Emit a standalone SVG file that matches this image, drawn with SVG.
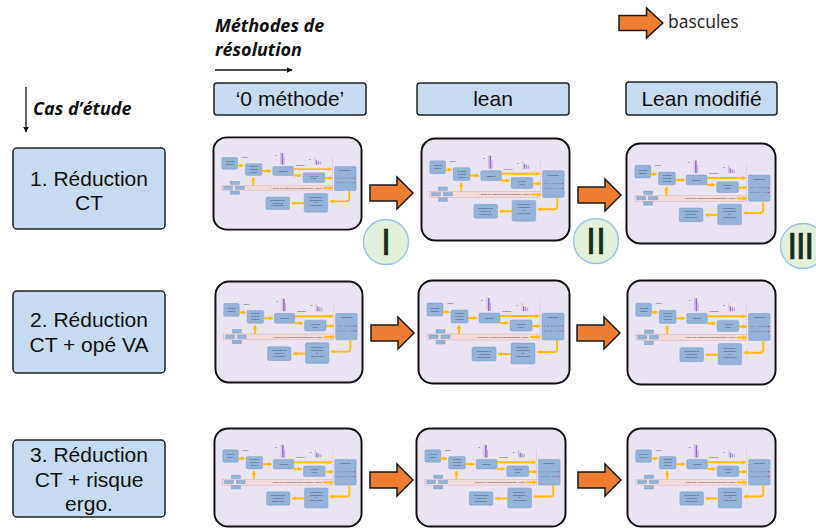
<svg xmlns="http://www.w3.org/2000/svg" xmlns:xlink="http://www.w3.org/1999/xlink" width="816" height="530" viewBox="0 0 816 530">
<style>
.hdr{fill:#C6DBEF;stroke:#222;stroke-width:1.5}
.ht{font-family:"Liberation Sans",Arial,sans-serif;font-size:21px;fill:#111;text-anchor:middle}
.ct{font-family:"Liberation Sans",Arial,sans-serif;font-size:21px;fill:#111;text-anchor:middle}
.axis{font-family:"Open Sans",sans-serif;font-size:18px;font-weight:bold;font-style:italic;fill:#111}
.leg{font-family:"Open Sans",sans-serif;font-size:17.5px;fill:#222}
.orange{fill:#ED7D31;stroke:#1a1a1a;stroke-width:1.5;stroke-linejoin:miter}
.circ{fill:#E2EFDA;stroke:#9DC3E6;stroke-width:1.5}
.num{font-family:"Liberation Sans",Arial,sans-serif;font-size:36px;fill:#1B2B1B;stroke:#1B2B1B;stroke-width:0.6;text-anchor:middle}
.tb{fill:#95B3D7;stroke:#7B9FCB;stroke-width:0.5}
.tt{font-family:"Liberation Sans",Arial,sans-serif;font-size:2.4px;fill:#1F3864;text-anchor:middle}
.tl{font-family:"Liberation Sans",Arial,sans-serif;font-size:2.4px;fill:#333}
.ya{stroke:#FFC000;stroke-width:2;fill:none}
</style>
<defs>
<marker id="blk" viewBox="0 0 10 10" refX="9" refY="5" markerWidth="6" markerHeight="6" orient="auto" markerUnits="userSpaceOnUse"><path d="M0,0 L10,5 L0,10 Z" fill="#111"/></marker>
<marker id="yel" viewBox="0 0 10 10" refX="8" refY="5" markerWidth="2.2" markerHeight="2.2" orient="auto" markerUnits="strokeWidth"><path d="M0,0 L10,5 L0,10 Z" fill="#FFC000"/></marker>
<path id="oarrow" d="M0,8 H27 V0 L43,16 L27,32 V24 H0 Z"/>
<symbol id="thumb" viewBox="0 0 154 106" preserveAspectRatio="none" overflow="visible">
<rect x="1.5" y="1.5" width="151" height="103" rx="14" fill="#EAE3F2" stroke="#111" stroke-width="2"/>
<rect x="10" y="55" width="113" height="6" fill="#F2DCDB" stroke="#CDB3B2" stroke-width="0.5"/>
<text class="tl" x="60" y="58.8">Analyse de l’alignement objectif/stratégie / action</text>
<rect class="tb" x="19" y="50.5" width="9" height="3.5"/>
<rect class="tb" x="12" y="56" width="9" height="3.5"/>
<rect class="tb" x="24" y="56" width="9" height="3.5"/>
<rect class="tb" x="19" y="61.5" width="9" height="3.5"/>
<rect class="tb" x="10" y="24" width="16" height="13" rx="1.5"/>
<text class="tt" x="18" y="29.5">Process</text><text class="tt" x="18" y="32.5">Manuel</text>
<rect class="tb" x="34" y="31" width="17" height="13" rx="1.5"/>
<text class="tt" x="42.5" y="35">Création</text><text class="tt" x="42.5" y="38">process</text><text class="tt" x="42.5" y="41">collectif</text>
<rect class="tb" x="62" y="34" width="21" height="10" rx="1.5"/>
<text class="tt" x="72.5" y="40">Stabilise</text>
<rect class="tb" x="93" y="41" width="22" height="11" rx="1.5"/>
<text class="tt" x="104" y="45.5">Améliore</text><text class="tt" x="104" y="48.5">(lean)</text>
<rect class="tb" x="125" y="34" width="22" height="27" rx="1.5"/>
<text class="tt" x="136" y="39">Diagnostic</text>
<line x1="127" y1="47" x2="145" y2="47" stroke="#4F81BD" stroke-width="0.6" stroke-dasharray="2 1"/>
<line x1="127" y1="52" x2="145" y2="52" stroke="#4F81BD" stroke-width="0.6" stroke-dasharray="2 1"/>
<circle cx="145.5" cy="47" r="0.8" fill="#E0405A"/><circle cx="145.5" cy="52" r="0.8" fill="#E0405A"/>
<circle cx="133" cy="47" r="0.6" fill="#F4B6B6"/><circle cx="138" cy="52" r="0.6" fill="#F4B6B6"/>
<rect class="tb" x="55" y="68" width="24" height="14" rx="1.5"/>
<text class="tt" x="67" y="72.5">Réalisation de</text><text class="tt" x="67" y="75.5">l’apport de</text><text class="tt" x="67" y="78.5">compétence</text>
<rect class="tb" x="94" y="64" width="24" height="21" rx="1.5"/>
<text class="tt" x="106" y="69">Conception /</text><text class="tt" x="106" y="72">modification</text><text class="tt" x="106" y="75">de</text><text class="tt" x="106" y="78">l’intervention</text>
<text class="tl" x="29" y="25">- CTref</text>
<text class="tl" x="84" y="33">- CTcobot</text>
<text class="tl" x="64" y="22">Q</text>
<line x1="70" y1="18" x2="70" y2="32" stroke="#888" stroke-width="0.4"/>
<rect x="71" y="19" width="1.6" height="13" fill="#9966CC"/>
<rect x="73" y="24" width="1" height="8" fill="#C8A2E8"/>
<text class="tl" x="99" y="27">Q</text>
<line x1="105" y1="24" x2="105" y2="32" stroke="#888" stroke-width="0.4"/>
<rect x="106" y="27" width="1.2" height="5" fill="#9966CC"/><rect x="108" y="28" width="1.2" height="4" fill="#B08AD8"/><rect x="110" y="28.5" width="1.2" height="3.5" fill="#C8A2E8"/>
<line x1="123" y1="24" x2="123" y2="55" stroke="#B4A7D6" stroke-width="0.5" stroke-dasharray="1.5 1"/>
<line class="ya" x1="26" y1="33" x2="32" y2="33" marker-end="url(#yel)"/>
<line class="ya" x1="51" y1="39" x2="60" y2="39" marker-end="url(#yel)"/>
<line class="ya" x1="42" y1="55" x2="42" y2="46.5" marker-end="url(#yel)"/>
<line class="ya" x1="83" y1="37" x2="122" y2="37" stroke-width="2.6" marker-end="url(#yel)"/>
<line class="ya" x1="83" y1="44" x2="91" y2="44" marker-end="url(#yel)"/>
<line class="ya" x1="115" y1="47" x2="123" y2="47" marker-end="url(#yel)"/>
<line class="ya" x1="113" y1="58" x2="123" y2="58" marker-end="url(#yel)"/>
<path class="ya" d="M140,61 V70 Q140,73 137,73 H120.5" marker-end="url(#yel)"/>
<line class="ya" x1="94" y1="75" x2="81.5" y2="75" marker-end="url(#yel)"/>
</symbol>
</defs>

<g id="legend">
<use href="#oarrow" class="orange" transform="translate(619,8) scale(1.02,0.94)"/>
<text class="leg" x="668" y="28">bascules</text>
</g>

<g id="axis-methodes">
<text class="axis" x="215" y="32">Méthodes de</text>
<text class="axis" x="215" y="56">résolution</text>
</g>
<g id="axis-cas">
<text class="axis" x="33" y="115">Cas d’étude</text>
</g>

<g id="col-0methode"><rect class="hdr" x="214" y="83" width="152" height="32" rx="3"/><text class="ht" x="290" y="106">‘0 méthode’</text></g>
<g id="col-lean"><rect class="hdr" x="417" y="83" width="152" height="32" rx="3"/><text class="ht" x="493" y="106">lean</text></g>
<g id="col-leanmodifie"><rect class="hdr" x="626" y="82" width="151" height="33" rx="3"/><text class="ht" x="701.5" y="106">Lean modifié</text></g>

<g id="case1"><rect class="hdr" x="13" y="148" width="152" height="81" rx="4"/><text class="ct" x="89" y="186">1. Réduction</text><text class="ct" x="89" y="210">CT</text></g>
<g id="case2"><rect class="hdr" x="13" y="291" width="152" height="82" rx="4"/><text class="ct" x="89" y="327">2. Réduction</text><text class="ct" x="89" y="352">CT + opé VA</text></g>
<g id="case3"><rect class="hdr" x="13" y="440" width="152" height="77" rx="4"/><text class="ct" x="89" y="462">3. Réduction</text><text class="ct" x="89" y="487">CT + risque</text><text class="ct" x="89" y="511">ergo.</text></g>

<g id="t1a"><use href="#thumb" x="212" y="136" width="151" height="95"/></g>
<g id="t1b"><use href="#thumb" x="420" y="137" width="151" height="105"/></g>
<g id="t1c"><use href="#thumb" x="625" y="142" width="152" height="103"/></g>
<g id="t2a"><use href="#thumb" x="214" y="280" width="150" height="104"/></g>
<g id="t2b"><use href="#thumb" x="417" y="279" width="154" height="106"/></g>
<g id="t2c"><use href="#thumb" x="626" y="279" width="151" height="107"/></g>
<g id="t3a"><use href="#thumb" x="213" y="427" width="150" height="101"/></g>
<g id="t3b"><use href="#thumb" x="415" y="427" width="152" height="101"/></g>
<g id="t3c"><use href="#thumb" x="626" y="427" width="151" height="101"/></g>

<g id="circle-I"><circle class="circ" cx="386" cy="242" r="22.5"/><text class="num" x="386" y="255">I</text></g>
<g id="circle-II"><circle class="circ" cx="596" cy="241" r="22.5"/><text class="num" x="596" y="254">II</text></g>
<g id="circle-III"><circle class="circ" cx="803" cy="246" r="22.5"/><text class="num" x="800" y="259" letter-spacing="-1.5">III</text></g>

<g id="connectors">
<line x1="215" y1="70" x2="292" y2="70" stroke="#111" stroke-width="1.3" marker-end="url(#blk)"/>
<line x1="26" y1="87" x2="26" y2="132" stroke="#111" stroke-width="1.3" marker-end="url(#blk)"/>
<use href="#oarrow" class="orange" x="370" y="177"/>
<use href="#oarrow" class="orange" x="578" y="179"/>
<use href="#oarrow" class="orange" x="371" y="317"/>
<use href="#oarrow" class="orange" x="577" y="317"/>
<use href="#oarrow" class="orange" x="370" y="464"/>
<use href="#oarrow" class="orange" x="578" y="464"/>
</g>
</svg>
